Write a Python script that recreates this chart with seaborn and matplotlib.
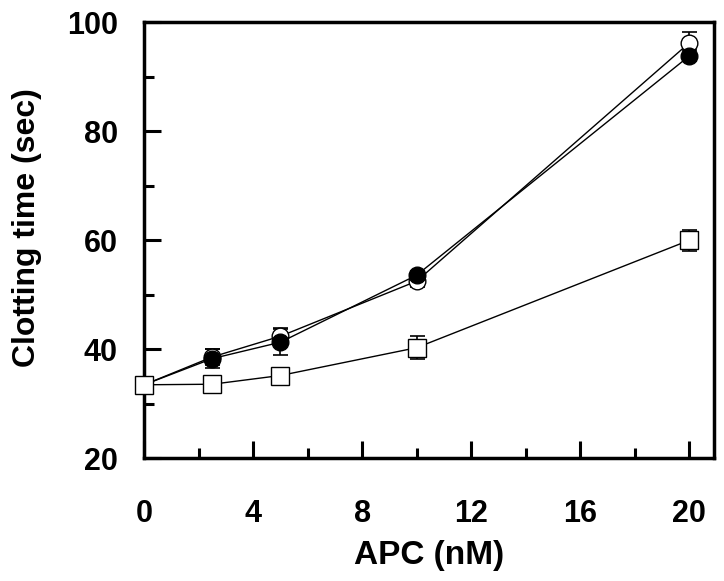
import numpy as np
import pandas as pd
import seaborn as sns
import matplotlib.pyplot as plt
from matplotlib.ticker import MultipleLocator

# APC concentration (nM)
apc = [0, 2.5, 5, 10, 20]

# clotting times (sec) and error bars for the three plasmas
open_circle = [33.5, 38.6, 42.4, 52.5, 96.2]
open_circle_err = [0.0, 1.5, 1.5, 1.0, 2.0]
filled_circle = [33.5, 38.3, 41.3, 53.6, 93.8]
filled_circle_err = [0.0, 1.7, 2.4, 0.8, 1.0]
square = [33.5, 33.6, 35.2, 40.3, 60.0]
square_err = [0.0, 0.4, 0.4, 2.1, 1.9]

sns.set_style("white")
plt.rcParams['font.family'] = ['Liberation Sans', 'DejaVu Sans']
plt.rcParams['font.weight'] = 'bold'
for k in ['text.color', 'axes.labelcolor', 'xtick.color', 'ytick.color']:
    plt.rcParams[k] = 'black'

df = pd.DataFrame({
    'apc': apc * 3,
    'time': open_circle + filled_circle + square,
    'err': open_circle_err + filled_circle_err + square_err,
    'series': ['open'] * 5 + ['filled'] * 5 + ['square'] * 5,
})

fig = plt.figure(figsize=(7.24, 5.81), dpi=100)
ax = fig.add_axes([0.199, 0.211, 0.787, 0.751])

styles = {
    'open': dict(marker='o', mfc='white', ms=12),
    'filled': dict(marker='o', mfc='black', ms=12),
    'square': dict(marker='s', mfc='white', ms=12.5),
}

for name in ['open', 'filled', 'square']:
    d = df[df.series == name]
    ax.errorbar(d.apc, d.time, yerr=d.err, fmt='none', ecolor='black',
                elinewidth=1.2, capsize=5.4, capthick=1.2, zorder=2, clip_on=False)
    sns.lineplot(data=d, x='apc', y='time', ax=ax, color='black', lw=1.0,
                 marker=styles[name]['marker'], markersize=styles[name]['ms'],
                 markerfacecolor=styles[name]['mfc'], markeredgecolor='black',
                 markeredgewidth=1.0, zorder=3, clip_on=False)

ax.set_xlim(0, 20.9)
ax.set_ylim(20, 100)
ax.xaxis.set_major_locator(MultipleLocator(4))
ax.xaxis.set_minor_locator(MultipleLocator(2))
ax.yaxis.set_major_locator(MultipleLocator(20))
ax.yaxis.set_minor_locator(MultipleLocator(10))
ax.tick_params(which='both', direction='in', bottom=True, left=True,
               top=False, right=False, width=2.2, labelsize=22, color='black')
ax.tick_params(which='major', length=12)
ax.tick_params(which='minor', length=7)
ax.tick_params(axis='y', pad=19)
ax.tick_params(axis='x', pad=29)
for s in ax.spines.values():
    s.set_linewidth(2.5)
    s.set_color('black')
for lab in ax.get_xticklabels() + ax.get_yticklabels():
    lab.set_fontweight('bold')

ax.set_xlabel('APC (nM)', fontsize=24, fontweight='bold', labelpad=8)
ax.set_ylabel('Clotting time (sec)', fontsize=23, fontweight='bold')
ax.yaxis.set_label_coords(-0.179, 0.528)

fig.savefig('out.png', dpi=100)
